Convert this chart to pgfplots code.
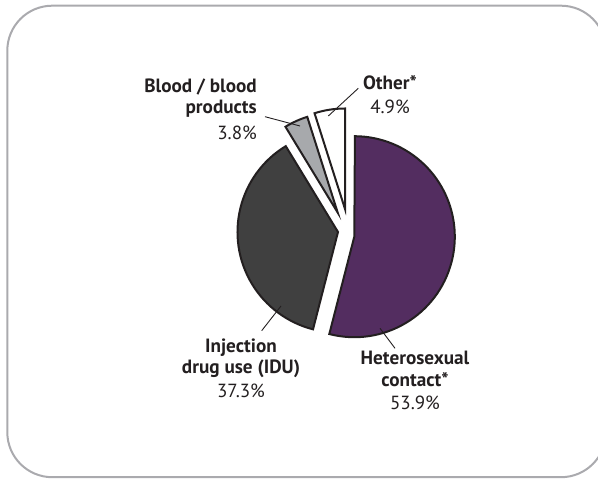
\documentclass[border=0pt]{standalone}
\usepackage{pgfplots}
\usepackage{pgfplotstable}
\pgfplotsset{compat=1.18}
\usepackage{fontspec}
\setmainfont{PT Sans}

\definecolor{hetero}{RGB}{83,45,96}
\definecolor{idu}{RGB}{64,64,64}
\definecolor{blood}{RGB}{167,169,172}
\definecolor{other}{RGB}{255,255,255}
\definecolor{edge}{RGB}{35,31,32}
\definecolor{frame}{RGB}{170,170,174}

% share of cases, centre of each (exploded) slice
\pgfplotstableread{
pct   cx     cy
4.9   345.0  270.0
3.8   337.7  266.4
37.3  338.0  247.0
53.9  354.3  242.3
}\slices

\newcommand\getv[3]{\pgfplotstablegetelem{#1}{#2}\of\slices\xdef#3{\pgfplotsretval}}

\begin{document}
\begin{tikzpicture}
\getv{0}{pct}\pO \getv{0}{cx}\xO \getv{0}{cy}\yO
\getv{1}{pct}\pB \getv{1}{cx}\xB \getv{1}{cy}\yB
\getv{2}{pct}\pI \getv{2}{cx}\xI \getv{2}{cy}\yI
\getv{3}{pct}\pH \getv{3}{cx}\xH \getv{3}{cy}\yH
\pgfmathsetmacro\aO{90}
\pgfmathsetmacro\aB{\aO+3.6*\pO}
\pgfmathsetmacro\aI{\aB+3.6*\pB}
\pgfmathsetmacro\aH{\aI+3.6*\pI}
\pgfmathsetmacro\aE{\aH+3.6*\pH}
\def\R{100.5pt}
\begin{axis}[
    x=1pt, y=1pt,
    xmin=0, xmax=598, ymin=0, ymax=479,
    hide axis,
    clip=false,
  ]
  \coordinate (bl) at (axis cs:0,0);
  \coordinate (tr) at (axis cs:598,479);
  \begin{scope}
    \clip (axis cs:0,0) rectangle (axis cs:598,479);
    \draw[frame, line width=2pt, rounded corners=45pt]
      (axis cs:7.3,1.8) rectangle (axis cs:606,473.3);
  \end{scope}

  \filldraw[fill=hetero, draw=edge, line width=2pt]
    (axis cs:\xH,\yH) -- ++(\aH:\R) arc[start angle=\aH, end angle=\aE, radius=\R] -- cycle;
  \filldraw[fill=idu, draw=edge, line width=2pt]
    (axis cs:\xI,\yI) -- ++(\aI:\R) arc[start angle=\aI, end angle=\aH, radius=\R] -- cycle;
  \filldraw[fill=blood, draw=edge, line width=2pt]
    (axis cs:\xB,\yB) -- ++(\aB:\R) arc[start angle=\aB, end angle=\aI, radius=\R] -- cycle;
  \filldraw[fill=other, draw=edge, line width=2pt]
    (axis cs:\xO,\yO) -- ++(\aO:\R) arc[start angle=\aO, end angle=\aB, radius=\R] -- cycle;

  % leader lines
  \draw[edge, line width=0.9pt] (axis cs:265,362.3) -- (axis cs:300,353);
  \draw[edge, line width=0.9pt] (axis cs:328.3,363) -- (axis cs:358.3,390.7);
  \draw[edge, line width=0.9pt] (axis cs:261.7,148.3) -- (axis cs:281,173);
  \draw[edge, line width=0.9pt] (axis cs:380,150.7) -- (axis cs:395,130.7);

  \tikzset{lab/.style={text=edge, inner sep=0pt, font=\fontsize{19.2}{22}\selectfont\bfseries},
           val/.style={text=edge, inner sep=0pt, font=\fontsize{19}{22}\selectfont}}
  \node[lab, anchor=base east] at (axis cs:257,386.7) {Blood / blood};
  \node[lab, anchor=base east] at (axis cs:257,365.7) {products};
  \node[val, anchor=base east] at (axis cs:257,339) {3.8\%};

  \node[lab, anchor=base] at (axis cs:390,389.7) {Other*};
  \node[val, anchor=base] at (axis cs:390,365.7) {4.9\%};

  \node[lab, anchor=base] at (axis cs:241,126) {Injection};
  \node[lab, anchor=base] at (axis cs:241,105) {drug use (IDU)};
  \node[val, anchor=base] at (axis cs:241,81.5) {37.3\%};

  \node[lab, anchor=base] at (axis cs:415,114) {Heterosexual};
  \node[lab, anchor=base] at (axis cs:415,92.3) {contact*};
  \node[val, anchor=base] at (axis cs:415,69.7) {53.9\%};
\end{axis}
\pgfresetboundingbox
\useasboundingbox (bl) rectangle (tr);
\end{tikzpicture}
\end{document}
